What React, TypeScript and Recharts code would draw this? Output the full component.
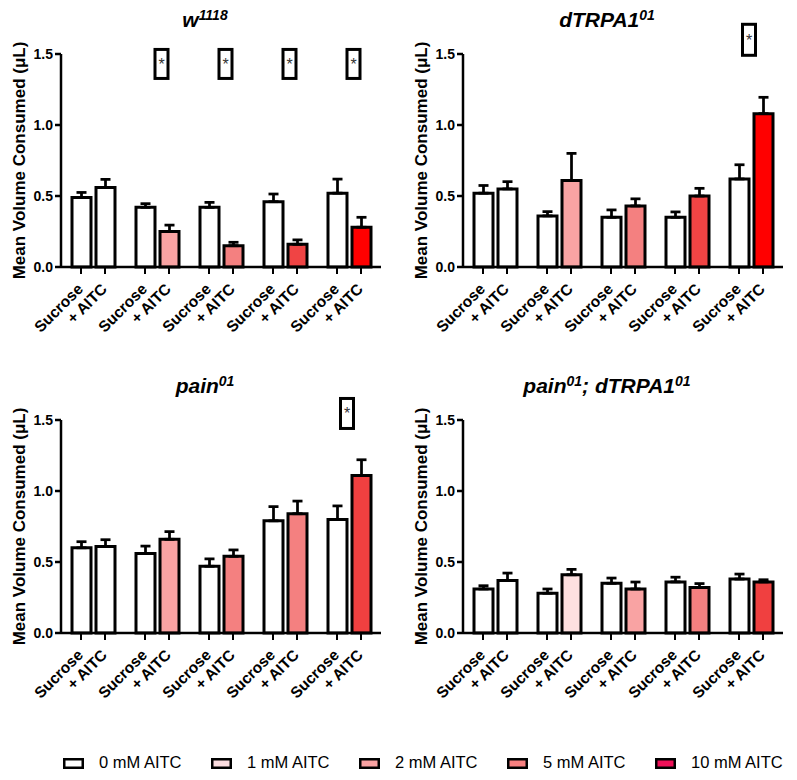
import { BarChart, Bar, XAxis, YAxis, ErrorBar, Cell, ReferenceDot, Label } from "recharts"

const pairs = ["0 mM", "1 mM", "2 mM", "5 mM", "10 mM"]
const tickNames = ["Sucrose", "+ AITC"]
const yTicks = [0, 0.5, 1.0, 1.5]
const legendNames = ["0 mM AITC", "1 mM AITC", "2 mM AITC", "5 mM AITC", "10 mM AITC"]

// w1118
const w1118Suc = [0.49, 0.42, 0.42, 0.46, 0.52]
const w1118SucErr = [0.035, 0.026, 0.035, 0.054, 0.099]
const w1118Aitc = [0.56, 0.25, 0.15, 0.16, 0.28]
const w1118AitcErr = [0.057, 0.045, 0.024, 0.031, 0.07]
const w1118Sig = [false, true, true, true, true]

// dTRPA1 01
const trpaSuc = [0.52, 0.36, 0.35, 0.35, 0.62]
const trpaSucErr = [0.054, 0.03, 0.052, 0.038, 0.1]
const trpaAitc = [0.55, 0.61, 0.43, 0.5, 1.08]
const trpaAitcErr = [0.051, 0.19, 0.05, 0.054, 0.115]
const trpaSig = [false, false, false, false, true]

// pain 01
const painSuc = [0.6, 0.56, 0.47, 0.79, 0.8]
const painSucErr = [0.043, 0.052, 0.052, 0.1, 0.095]
const painAitc = [0.61, 0.66, 0.54, 0.84, 1.11]
const painAitcErr = [0.047, 0.054, 0.045, 0.089, 0.11]
const painSig = [false, false, false, false, true]

// pain 01; dTRPA1 01
const dblSuc = [0.31, 0.28, 0.35, 0.36, 0.38]
const dblSucErr = [0.023, 0.03, 0.037, 0.033, 0.035]
const dblAitc = [0.37, 0.41, 0.31, 0.32, 0.36]
const dblAitcErr = [0.052, 0.038, 0.049, 0.028, 0.015]
const dblSig = [false, false, false, false, false]

const FONT = "'Liberation Sans', Arial, sans-serif"
const legendColors = ["#ffffff", "#fcdde0", "#f9a1a1", "#f88080", "#ee1058"]

const panels = [
  {
    title: [["w", "1118"]], suc: w1118Suc, sucErr: w1118SucErr, aitc: w1118Aitc, aitcErr: w1118AitcErr, sig: w1118Sig,
    colors: ["#ffffff", "#f9a3a3", "#f48080", "#f04444", "#ff0000"], starY: 1.43, starDx: 4.5, starH: 29, left: 0, top: 0,
  },
  {
    title: [["dTRPA1", "01"]], suc: trpaSuc, sucErr: trpaSucErr, aitc: trpaAitc, aitcErr: trpaAitcErr, sig: trpaSig,
    colors: ["#ffffff", "#f9a3a3", "#f48080", "#f04444", "#ff0000"], starY: 1.6, starDx: -2, starH: 31, left: 402, top: 0,
  },
  {
    title: [["pain", "01"]], suc: painSuc, sucErr: painSucErr, aitc: painAitc, aitcErr: painAitcErr, sig: painSig,
    colors: ["#ffffff", "#f9a3a3", "#f48080", "#f48080", "#f04040"], starY: 1.546, starDx: -2, starH: 30, left: 0, top: 366,
  },
  {
    title: [["pain", "01"], ["; dTRPA1", "01"]], suc: dblSuc, sucErr: dblSucErr, aitc: dblAitc, aitcErr: dblAitcErr, sig: dblSig,
    colors: ["#ffffff", "#fde0e0", "#f9a3a3", "#f48080", "#f04040"], starY: 1.5, starDx: 0, starH: 30, left: 402, top: 366,
  },
]

function PairTick({ x, y }: any) {
  return (
    <g>
      {[-12, 12].map((dx, i) => {
        const ax = x + dx + 3
        const ay = y + 23
        return (
          <g key={i}>
            <line x1={x + dx} y1={y} x2={x + dx} y2={y + 7} stroke="#000" strokeWidth={2} />
            <text x={ax} y={ay} transform={`rotate(-45 ${ax} ${ay})`} textAnchor="end"
              fontSize={15.5} fontWeight={700} fill="#000">{tickNames[i]}</text>
          </g>
        )
      })}
    </g>
  )
}

const starShape = (dx: number, h: number) => (p: any) => (
  <g>
    <rect x={p.cx + dx - 6.5} y={p.cy - h / 2} width={13} height={h} fill="none" stroke="#000" strokeWidth={3} />
    <text x={p.cx + dx} y={p.cy + 6} textAnchor="middle" fontSize={16} fill="#333">*</text>
  </g>
)

function YLabel({ viewBox }: any) {
  const cy = viewBox.y + viewBox.height / 2
  return (
    <text x={25} y={cy} transform={`rotate(-90 25 ${cy})`} textAnchor="middle"
      fontSize={17} fontWeight={700} fill="#000">Mean Volume Consumed (μL)</text>
  )
}

function Panel({ cfg }: any) {
  const data = pairs.map((p, i) => ({
    pair: p,
    suc: cfg.suc[i],
    sucErr: [0, cfg.sucErr[i]],
    aitc: cfg.aitc[i],
    aitcErr: [0, cfg.aitcErr[i]],
  }))
  return (
    <div style={{ position: "absolute", left: cfg.left, top: cfg.top, width: 400, height: 345 }}>
      <BarChart width={400} height={345} data={data} margin={{ top: 54, right: 19, bottom: 0, left: 0 }}
        barSize={19} barGap={5}>
        <XAxis dataKey="pair" height={78} interval={0} axisLine={{ stroke: "#000", strokeWidth: 2.5 }}
          tickLine={false} tickSize={0} tickMargin={0} tick={(props: any) => <PairTick {...props} />} />
        <YAxis width={61} domain={[0, 1.5]} ticks={yTicks} tickFormatter={(v: number) => v.toFixed(1)}
          axisLine={{ stroke: "#000", strokeWidth: 2.5 }} tickLine={{ stroke: "#000", strokeWidth: 2.5 }}
          tickSize={6} tickMargin={2} tick={{ fill: "#000", fontSize: 14, fontWeight: 700 }}>
          <Label content={(props: any) => <YLabel {...props} />} />
        </YAxis>
        <Bar dataKey="suc" fill="#ffffff" stroke="#000" strokeWidth={3} isAnimationActive={false}>
          <ErrorBar dataKey="sucErr" width={5} stroke="#000" strokeWidth={2.75} isAnimationActive={false} />
        </Bar>
        <Bar dataKey="aitc" stroke="#000" strokeWidth={3} isAnimationActive={false}>
          {data.map((d, i) => <Cell key={d.pair} fill={cfg.colors[i]} />)}
          <ErrorBar dataKey="aitcErr" width={5} stroke="#000" strokeWidth={2.75} isAnimationActive={false} />
        </Bar>
        {pairs.map((p, i) => cfg.sig[i] ? (
          <ReferenceDot key={p} x={p} y={cfg.starY} ifOverflow="visible" shape={starShape(cfg.starDx, cfg.starH)} />
        ) : null)}
      </BarChart>
      <svg width={400} height={40} style={{ position: "absolute", left: 0, top: 0, pointerEvents: "none" }}>
        <text x={205} y={27} textAnchor="middle" fontSize={21} fontWeight={700} fontStyle="italic" fill="#000">
          {cfg.title.map(([base, sup]: string[], i: number) => [
            <tspan key={"b" + i} dy={i ? 7 : 0}>{base}</tspan>,
            <tspan key={"s" + i} fontSize={14} dy={-7}>{sup}</tspan>,
          ])}
        </text>
      </svg>
    </div>
  )
}

export default function App() {
  return (
    <div style={{ position: "absolute", left: 0, top: 0, width: 797, height: 780, background: "#fff", fontFamily: FONT }}>
      {panels.map((cfg, i) => <Panel key={i} cfg={cfg} />)}
      <svg width={797} height={40} style={{ position: "absolute", left: 0, top: 740 }}>
        {legendNames.map((name, i) => {
          const lx = 63 + i * 148
          return (
            <g key={name}>
              <rect x={lx + 1.25} y={19.25} width={18.5} height={8.5} fill={legendColors[i]} stroke="#000" strokeWidth={2.5} />
              <text x={lx + 36} y={28} fontSize={16.5} fill="#000">{name}</text>
            </g>
          )
        })}
      </svg>
    </div>
  )
}
